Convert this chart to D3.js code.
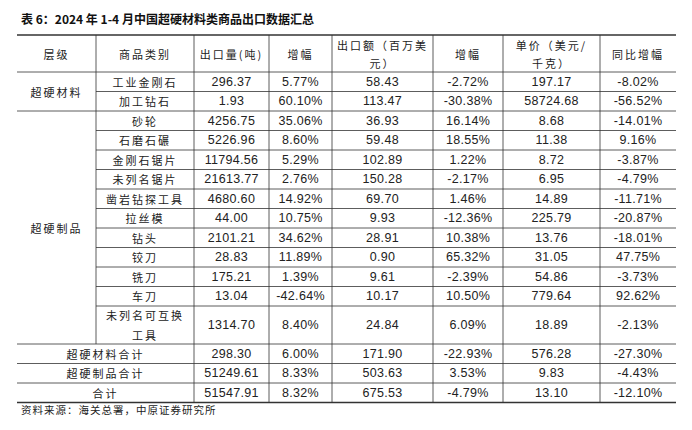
<!DOCTYPE html><html><head><meta charset="utf-8">
<script src="https://cdn.jsdelivr.net/npm/d3@7"></script>
<style>body{margin:0;background:#fff}</style></head><body><svg id="c" width="692" height="430"></svg>
<script>
const title = "表 6：2024 年 1-4 月中国超硬材料类商品出口数据汇总";
const source = "资料来源：海关总署，中原证券研究所";
const headers = [["层级"],["商品类别"],["出口量(吨)"],["增幅"],["出口额（百万美","元）"],["增幅"],["单价（美元/","千克）"],["同比增幅"]];
const groups = [{name:"超硬材料", n:2},{name:"超硬制品", n:11}];
const items = ["工业金刚石","加工钻石","砂轮","石磨石碾","金刚石锯片","未列名锯片","凿岩钻探工具","拉丝模","钻头","铰刀","铣刀","车刀","未列名可互换|工具"];
const volume = ["296.37","1.93","4256.75","5226.96","11794.56","21613.77","4680.60","44.00","2101.21","28.83","175.21","13.04","1314.70"];
const volGrowth = ["5.77%","60.10%","35.06%","8.60%","5.29%","2.76%","14.92%","10.75%","34.62%","11.89%","1.39%","-42.64%","8.40%"];
const value = ["58.43","113.47","36.93","59.48","102.89","150.28","69.70","9.93","28.91","0.90","9.61","10.17","24.84"];
const valGrowth = ["-2.72%","-30.38%","16.14%","18.55%","1.22%","-2.17%","1.46%","-12.36%","10.38%","65.32%","-2.39%","10.50%","6.09%"];
const price = ["197.17","58724.68","8.68","11.38","8.72","6.95","14.89","225.79","13.76","31.05","54.86","779.64","18.89"];
const priceGrowth = ["-8.02%","-56.52%","-14.01%","9.16%","-3.87%","-4.79%","-11.71%","-20.87%","-18.01%","47.75%","-3.73%","92.62%","-2.13%"];
const totals = ["超硬材料合计","超硬制品合计","合计"];
const totVolume = ["298.30","51249.61","51547.91"];
const totVolGrowth = ["6.00%","8.33%","8.32%"];
const totValue = ["171.90","503.63","675.53"];
const totValGrowth = ["-22.93%","3.53%","-4.79%"];
const totPrice = ["576.28","9.83","13.10"];
const totPriceGrowth = ["-27.30%","-4.43%","-12.10%"];

const svg = d3.select("#c");
const colEdges = [17,96,194,269,332,433,503,600,676];
const cx = i => (colEdges[i]+colEdges[i+1])/2;
const cn = "'Noto Sans CJK SC', sans-serif", nf = "'Liberation Sans Narrow','Liberation Sans',sans-serif";
const ink = "#222";
const headTop=35, headBot=72, rh=19.5;
const rowTops=[]; let y=headBot;
items.forEach(it=>{rowTops.push(y); y += it.includes("|")?38:rh;});
const totTops=[]; totals.forEach(()=>{totTops.push(y); y+=rh;});
const bottom=y;

svg.append("text").attr("x",21).attr("y",24).attr("font-family",cn).attr("font-weight","bold").attr("font-size",12).attr("fill","#111").text(title);
const line=(x1,y1,x2,y2,w)=>svg.append("line").attr("x1",x1).attr("x2",x2).attr("y1",y1).attr("y2",y2).attr("stroke","#333").attr("stroke-width",w||0.8);
const txt=(x,y,s,f)=>svg.append("text").attr("x",x).attr("y",y).attr("text-anchor","middle").attr("dominant-baseline","central").attr("font-family",f||cn).attr("font-size",f===nf?12.5:11).attr("letter-spacing",f===nf?0.3:2).attr("fill",ink).text(s);

line(colEdges[0],headTop,colEdges[8],headTop,1.6);
line(colEdges[0],bottom,colEdges[8],bottom,1.6);
line(colEdges[0],headBot,colEdges[8],headBot);
headers.forEach((h,i)=>{
  if(h.length===1) txt(cx(i),(headTop+headBot)/2,h[0]);
  else {txt(cx(i),headTop+10,h[0]);txt(cx(i),headBot-9,h[1]);}
});
const cols=[volume,volGrowth,value,valGrowth,price,priceGrowth];
items.forEach((it,r)=>{
  const t=rowTops[r], h=it.includes("|")?38:rh, m=t+h/2;
  if(r>0){ const gStart = r===groups[0].n; line(gStart?colEdges[0]:colEdges[1],t,colEdges[8],t);}
  const parts=it.split("|");
  if(parts.length===1) txt(cx(1),m,it); else {txt(cx(1),t+9,parts[0]);txt(cx(1),t+h-9,parts[1]);}
  cols.forEach((c,j)=>txt(cx(j+2),m,c[r],nf));
});
let gi=0;
groups.forEach(g=>{const a=rowTops[gi], b=(gi+g.n<items.length)?rowTops[gi+g.n]:totTops[0]; txt(cx(0),(a+b)/2,g.name); gi+=g.n;});
const tcols=[totVolume,totVolGrowth,totValue,totValGrowth,totPrice,totPriceGrowth];
totals.forEach((t,r)=>{
  const top=totTops[r]; line(colEdges[0],top,colEdges[8],top);
  txt((colEdges[0]+colEdges[2])/2,top+rh/2,t);
  tcols.forEach((c,j)=>txt(cx(j+2),top+rh/2,c[r],nf));
});
for(let i=1;i<8;i++){
  line(colEdges[i],headTop,colEdges[i],i===1?totTops[0]:bottom);
}
svg.append("text").attr("x",21).attr("y",414).attr("font-family",cn).attr("font-size",10.5).attr("letter-spacing",1).attr("fill","#222").text(source);
</script></body></html>
